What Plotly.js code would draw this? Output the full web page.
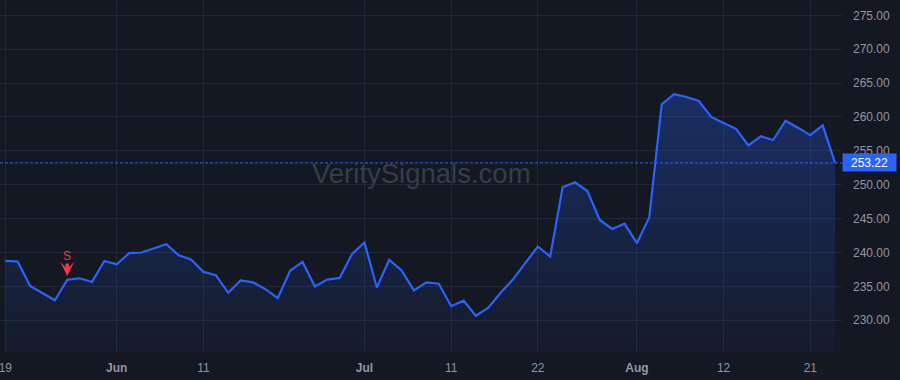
<!DOCTYPE html>
<html>
<head>
<meta charset="utf-8">
<script src="https://cdn.plot.ly/plotly-3.0.1.min.js"></script>
<style>
  html, body { margin: 0; padding: 0; background: #141822; }
  #chart { width: 900px; height: 380px; }
</style>
</head>
<body>
<div id="chart"></div>
<script>
const dates = [
  '2025-05-19','2025-05-20','2025-05-21','2025-05-22','2025-05-23','2025-05-27','2025-05-28','2025-05-29','2025-05-30',
  '2025-06-02','2025-06-03','2025-06-04','2025-06-05','2025-06-06','2025-06-09','2025-06-10','2025-06-11','2025-06-12','2025-06-13',
  '2025-06-16','2025-06-17','2025-06-18','2025-06-20','2025-06-23','2025-06-24','2025-06-25','2025-06-26','2025-06-27','2025-06-30',
  '2025-07-01','2025-07-02','2025-07-03','2025-07-07','2025-07-08','2025-07-09','2025-07-10','2025-07-11','2025-07-14','2025-07-15',
  '2025-07-16','2025-07-17','2025-07-18','2025-07-21','2025-07-22','2025-07-23','2025-07-24','2025-07-25','2025-07-28','2025-07-29',
  '2025-07-30','2025-07-31','2025-08-01','2025-08-04','2025-08-05','2025-08-06','2025-08-07','2025-08-08','2025-08-11','2025-08-12',
  '2025-08-13','2025-08-14','2025-08-15','2025-08-18','2025-08-19','2025-08-20','2025-08-21','2025-08-22','2025-08-25'
];
const prices = [
  238.76, 238.67, 235.07, 234.0, 232.96, 235.96, 236.2, 235.66, 238.76, 238.27,
  239.9, 240.0, 240.6, 241.22, 239.6, 238.97, 237.14, 236.65, 234.05, 235.87,
  235.6, 234.6, 233.28, 237.3, 238.61, 235.0, 236.0, 236.25, 239.8, 241.48,
  234.84, 238.91, 237.36, 234.39, 235.6, 235.4, 232.08, 232.9, 230.68, 231.86,
  234.07, 236.04, 238.47, 240.89, 239.41, 249.63, 250.36, 249.08, 244.8, 243.47,
  244.25, 241.38, 245.2, 261.87, 263.35, 262.95, 262.36, 260.0, 259.1, 258.25,
  255.8, 257.15, 256.6, 259.45, 258.42, 257.33, 258.76, 253.22
];
const tickDates = ['2025-05-19','2025-06-02','2025-06-11','2025-07-01','2025-07-11','2025-07-22','2025-08-01','2025-08-12','2025-08-21'];
const tickLabels = ['19','<b>Jun</b>','11','<b>Jul</b>','11','22','<b>Aug</b>','12','21'];
const yTicks = [230, 235, 240, 245, 250, 255, 260, 265, 270, 275];
const signalDates = ['2025-05-27'];
const signalLabels = ['S'];
const watermark = 'VeritySignals.com';

const lastPrice = prices[prices.length - 1];
const FONT = '"Liberation Sans", Arial, sans-serif';
const BLUE = '#2962ff';
const RED = '#f23645';

const trace = {
  type: 'scatter',
  mode: 'lines',
  x: dates,
  y: prices,
  line: { color: BLUE, width: 2.2 },
  fill: 'tozeroy',
  fillgradient: {
    type: 'vertical',
    start: 225.3,
    stop: 264,
    colorscale: [[0, 'rgba(41,98,255,0.04)'], [1, 'rgba(41,98,255,0.30)']]
  },
  hoverinfo: 'skip',
  showlegend: false
};

const annotations = [];
annotations.push({
  xref: 'paper', yref: 'paper', x: 0.5, y: 0.508,
  text: watermark, showarrow: false,
  font: { family: FONT, size: 27.5, color: '#383c48' }
});
annotations.push({
  xref: 'paper', yref: 'y', x: 1, y: lastPrice, xanchor: 'left', yanchor: 'middle',
  text: lastPrice.toFixed(2), showarrow: false,
  bgcolor: BLUE, borderpad: 2, width: 49, height: 13,
  font: { family: FONT, size: 12, color: '#ffffff' }
});
signalDates.forEach((d, k) => {
  const idx = dates.indexOf(d);
  annotations.push({
    xref: 'x', yref: 'y', x: d, y: prices[idx],
    text: signalLabels[k], showarrow: true,
    ax: 0, ay: -24, arrowhead: 3, arrowsize: 0.65, arrowwidth: 3.6,
    arrowcolor: RED, standoff: 4, borderpad: 0,
    font: { family: FONT, size: 12, color: RED }
  });
});

const layout = {
  width: 900, height: 380,
  margin: { l: 0, r: 58, t: 0, b: 28 },
  paper_bgcolor: '#141822',
  plot_bgcolor: '#141822',
  showlegend: false,
  xaxis: {
    type: 'category',
    range: [-0.43, 67.56],
    tickmode: 'array',
    tickvals: tickDates,
    ticktext: tickLabels,
    showgrid: true,
    gridcolor: '#242834',
    gridwidth: 1,
    zeroline: false,
    showline: false,
    ticks: '',
    ticklabelstandoff: 7,
    tickfont: { family: FONT, size: 12, color: '#9296a0' },
    fixedrange: true
  },
  yaxis: {
    side: 'right',
    range: [225.32, 277.26],
    tickmode: 'array',
    tickvals: yTicks,
    ticktext: yTicks.map(v => v.toFixed(2)),
    showgrid: true,
    gridcolor: '#242834',
    gridwidth: 1,
    zeroline: false,
    showline: false,
    ticks: '',
    ticklabelstandoff: 10,
    tickfont: { family: FONT, size: 12, color: '#9296a0' },
    fixedrange: true
  },
  shapes: [{
    type: 'line', xref: 'paper', yref: 'y',
    x0: 0, x1: 1, y0: lastPrice, y1: lastPrice,
    line: { color: BLUE, width: 1, dash: '3px,2px' }
  }],
  annotations: annotations
};

Plotly.newPlot('chart', [trace], layout, { displayModeBar: false, staticPlot: true });
</script>
</body>
</html>
